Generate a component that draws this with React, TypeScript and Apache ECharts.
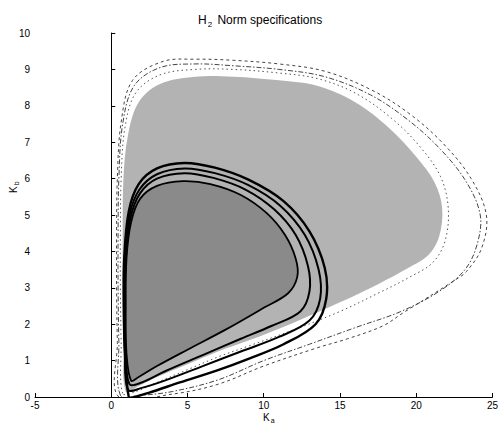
import React, { useEffect, useRef } from "react";
import * as echarts from "echarts";

// ---- data ----
const X_TICKS = [-5, 0, 5, 10, 15, 20, 25];
const Y_TICKS = [0, 1, 2, 3, 4, 5, 6, 7, 8, 9, 10];

// light gray shaded region
const GRAY_X = [0.95, 0.8, 0.75, 0.75, 0.8, 1.1, 1.8, 3.2, 5.5, 8, 11, 13.5, 16, 18.2, 20, 21.2, 21.7, 21.5, 20.8, 19.5, 17.5, 15, 12, 9, 7, 5, 3, 1.8];
const GRAY_Y = [0.15, 1.5, 3, 4.5, 6.0, 7.2, 8.1, 8.6, 8.8, 8.8, 8.7, 8.55, 8.1, 7.4, 6.6, 5.9, 5.2, 4.4, 3.9, 3.55, 3.1, 2.6, 2.05, 1.55, 1.25, 0.9, 0.55, 0.3];

// dashed level curves (inner dotted, two outer)
const DASH1_X = [0.75, 0.65, 0.6, 0.6, 0.65, 0.9, 1.6, 3.2, 5.5, 8, 11, 13.5, 16, 18.4, 20.3, 21.6, 22.1, 21.9, 21.1, 19.6, 17.5, 15, 12, 9, 7, 5, 3, 1.6];
const DASH1_Y = [0.1, 1.5, 3, 4.5, 6.0, 7.4, 8.35, 8.85, 9.0, 9.0, 8.9, 8.75, 8.35, 7.65, 6.85, 6.05, 5.2, 4.3, 3.7, 3.3, 2.85, 2.35, 1.85, 1.4, 1.1, 0.75, 0.4, 0.15];
const DASH2_X = [0.6, 0.5, 0.45, 0.45, 0.5, 0.75, 1.5, 3.2, 5.5, 8, 11, 14, 17, 19.5, 21.6, 23.3, 24.2, 24.0, 23.2, 21.5, 19, 16.1, 13, 10, 7, 4, 2];
const DASH2_Y = [0.05, 1.5, 3, 4.5, 6.0, 7.5, 8.55, 9.05, 9.15, 9.1, 9.0, 8.8, 8.3, 7.6, 6.8, 5.9, 5.0, 4.2, 3.5, 2.9, 2.35, 1.92, 1.45, 1.0, 0.47, 0.15, 0.05];
const DASH3_X = [0.5, 0.4, 0.35, 0.35, 0.4, 0.65, 1.4, 3.4, 5.5, 8, 11, 14, 17, 19.5, 21.8, 23.6, 24.6, 24.3, 23.3, 22.5, 19.1, 17.8, 15.5, 13.5, 10, 7, 4];
const DASH3_Y = [0.0, 1.5, 3, 4.5, 6.0, 7.55, 8.7, 9.22, 9.28, 9.25, 9.15, 8.95, 8.45, 7.8, 6.95, 6.0, 5.0, 4.1, 3.45, 3.2, 2.3, 1.95, 1.6, 1.35, 0.85, 0.35, 0.08];

// solid black level curves (A innermost, bounds dark region)
const A_X = [1.3, 1.0, 0.95, 1.0, 1.3, 1.9, 3.0, 4.7, 6.5, 8.5, 10.2, 11.4, 12.1, 12.2, 11.6, 10.0, 7.5, 5.0, 3.0, 1.8];
const A_Y = [0.45, 1.2, 2.5, 3.8, 4.8, 5.45, 5.8, 5.93, 5.85, 5.55, 5.05, 4.45, 3.8, 3.3, 2.85, 2.45, 1.85, 1.3, 0.85, 0.55];
const B_X = [1.2, 0.95, 0.9, 0.95, 1.25, 1.9, 3.0, 4.8, 6.7, 8.8, 10.7, 12.1, 12.9, 13.0, 12.4, 10.5, 8.5, 6.0, 3.5, 2.0];
const B_Y = [0.35, 1.2, 2.5, 3.8, 4.9, 5.6, 6.0, 6.15, 6.02, 5.7, 5.15, 4.45, 3.6, 2.9, 2.35, 1.95, 1.6, 1.15, 0.7, 0.4];
const C_X = [1.1, 0.9, 0.85, 0.9, 1.2, 1.85, 3.0, 4.8, 6.8, 9.0, 11.1, 12.7, 13.6, 13.7, 13.0, 11.0, 8.5, 6.0, 3.5, 2.0];
const C_Y = [0.2, 1.2, 2.5, 3.8, 5.0, 5.7, 6.12, 6.28, 6.15, 5.82, 5.25, 4.45, 3.5, 2.7, 2.1, 1.65, 1.25, 0.85, 0.45, 0.25];
const D_X = [1.15, 0.9, 0.82, 0.85, 1.15, 1.8, 3.0, 4.8, 6.8, 9.0, 11.3, 13.0, 14.0, 14.1, 13.4, 11.3, 9.0, 7.0, 4.5, 2.5, 1.5];
const D_Y = [0.0, 1.2, 2.5, 3.8, 5.1, 5.85, 6.28, 6.43, 6.3, 5.97, 5.38, 4.55, 3.55, 2.7, 2.0, 1.45, 1.05, 0.74, 0.4, 0.12, 0.0];

const FONT = "'Liberation Sans', Arial, Helvetica, sans-serif";

function loop(xs: number[], ys: number[], style: any, smooth: number, z: number) {
  return {
    type: "custom",
    coordinateSystem: "cartesian2d",
    silent: true,
    clip: true,
    z,
    data: xs.map((x, i) => [x, ys[i]]),
    renderItem: (params: any, api: any) => {
      if (params.dataIndex !== 0) return null;
      const pts = xs.map((x, i) => api.coord([x, ys[i]]));
      return { type: "polygon", shape: { points: pts, smooth }, style };
    },
  };
}

export default function App() {
  const ref = useRef<HTMLDivElement>(null);
  useEffect(() => {
    if (!ref.current) return;
    const chart = echarts.init(ref.current, undefined, { renderer: "svg" });
    const lineStroke = (w: number) => ({ fill: "none", stroke: "#000", lineWidth: w });
    chart.setOption({
      animation: false,
      backgroundColor: "#fff",
      textStyle: { fontFamily: FONT },
      title: {
        text: "H{s|2} Norm specifications",
        left: 193,
        top: 6,
        textStyle: {
          fontFamily: FONT,
          fontSize: 12,
          fontWeight: "normal",
          color: "#000",
          rich: { s: { fontSize: 8, fontFamily: FONT, padding: [9, 2, 0, 1] } },
        },
      },
      grid: { left: 35, right: 3, top: 33, bottom: 29 },
      xAxis: {
        type: "value",
        min: X_TICKS[0],
        max: X_TICKS[X_TICKS.length - 1],
        interval: 5,
        splitLine: { show: false },
        axisLine: { lineStyle: { color: "#000", width: 1 } },
        axisTick: { inside: true, length: 4, lineStyle: { color: "#000" } },
        axisLabel: { color: "#000", fontSize: 10, margin: 3, fontFamily: FONT },
      },
      yAxis: {
        type: "value",
        min: Y_TICKS[0],
        max: Y_TICKS[Y_TICKS.length - 1],
        interval: 1,
        splitLine: { show: false },
        axisLine: { lineStyle: { color: "#000", width: 1 } },
        axisTick: { inside: true, length: 4, lineStyle: { color: "#000" } },
        axisLabel: { color: "#000", fontSize: 10, margin: 5, fontFamily: FONT },
      },
      graphic: [
        {
          type: "text",
          x: 263,
          y: 411,
          style: {
            text: "K{s|a}",
            font: `10px ${FONT}`,
            fill: "#000",
            rich: { s: { fontSize: 7, fontFamily: FONT, padding: [6, 0, 0, 1] } },
          },
        },
        {
          type: "text",
          x: 7,
          y: 193,
          rotation: Math.PI / 2,
          style: {
            text: "K{s|b}",
            font: `10px ${FONT}`,
            fill: "#000",
            rich: { s: { fontSize: 7, fontFamily: FONT, padding: [6, 0, 0, 1] } },
          },
        },
      ],
      series: [
        loop(GRAY_X, GRAY_Y, { fill: "#b3b3b3", stroke: "none" }, 0.35, 1),
        loop(DASH1_X, DASH1_Y, { fill: "none", stroke: "#555", lineWidth: 1, lineDash: [1.5, 3] }, 0.35, 2),
        loop(DASH2_X, DASH2_Y, { fill: "none", stroke: "#444", lineWidth: 1, lineDash: [5, 2, 1.5, 2] }, 0.35, 2),
        loop(DASH3_X, DASH3_Y, { fill: "none", stroke: "#444", lineWidth: 1, lineDash: [3, 3] }, 0.35, 2),
        loop(A_X, A_Y, { fill: "#8a8a8a", stroke: "none" }, 0.35, 3),
        loop(D_X, D_Y, lineStroke(2.4), 0.35, 4),
        loop(C_X, C_Y, lineStroke(2), 0.35, 4),
        loop(B_X, B_Y, lineStroke(2), 0.35, 4),
        loop(A_X, A_Y, lineStroke(1.8), 0.35, 4),
      ],
    });
    return () => chart.dispose();
  }, []);
  return (
    <div
      ref={ref}
      style={{ position: "absolute", left: 0, top: 0, width: 501, height: 426 }}
    />
  );
}
